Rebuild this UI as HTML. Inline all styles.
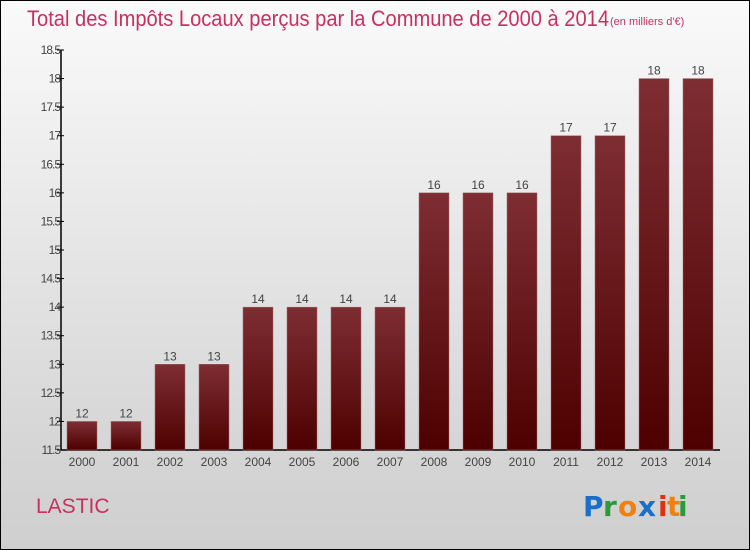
<!DOCTYPE html>
<html><head><meta charset="utf-8"><style>
html,body{margin:0;padding:0}
body{width:750px;height:550px;overflow:hidden;font-family:"Liberation Sans",sans-serif}
#wrap{position:absolute;left:0;top:0;width:748px;height:548px;border:1px solid #000;background:linear-gradient(#fafafa,#d6d6d6 80%,#cfcfcf)}
</style></head><body>
<div id="wrap">
<svg id="chart" width="750" height="550" style="position:absolute;left:-1px;top:-1px">
<defs><linearGradient id="bg" x1="0" y1="0" x2="0" y2="1"><stop offset="0" stop-color="#7e2e33"/><stop offset="1" stop-color="#4e0000"/></linearGradient></defs>
<text x="27" y="26" font-size="22" fill="#c8305f" font-family="Liberation Sans" textLength="582" lengthAdjust="spacingAndGlyphs">Total des Impôts Locaux perçus par la Commune de 2000 à 2014</text>
<text x="610" y="25" font-size="11" fill="#c8305f">(en milliers d'€)</text>
<text x="36" y="513" font-size="21" fill="#c8305f">LASTIC</text>
<g font-size="28" font-weight="bold" font-family="DejaVu Sans">
<text x="583" y="516" fill="#1a6fc8">P</text><text x="603" y="516" fill="#2a9a3a">r</text><text x="618" y="516" fill="#f08010">o</text><text x="638" y="516" fill="#1a6fc8">x</text><text x="658" y="516" fill="#e03010">i</text><text x="667" y="516" fill="#f08010">t</text><text x="678" y="516" fill="#2a9a3a">i</text>
</g>
<g id="axes"></g><g id="bars"></g>
</svg></div>
<script>
const categories=["2000","2001","2002","2003","2004","2005","2006","2007","2008","2009","2010","2011","2012","2013","2014"];
const values=[12,12,13,13,14,14,14,14,16,16,16,17,17,18,18];
const yTicks=[11.5,12,12.5,13,13.5,14,14.5,15,15.5,16,16.5,17,17.5,18,18.5];
const yMin=11.5,yMax=18.5,plotTop=50,plotBottom=450,axisX=61;
const y=v=>plotBottom-(v-yMin)/(yMax-yMin)*(plotBottom-plotTop);
const x=i=>82+i*44;
const NS="http://www.w3.org/2000/svg";
function mk(t,a,p){const e=document.createElementNS(NS,t);for(const k in a)e.setAttribute(k,a[k]);p.appendChild(e);return e;}
const ax=document.getElementById('axes'),bg=document.getElementById('bars');
let l=mk('line',{x1:axisX,y1:plotTop,x2:axisX,y2:plotBottom,stroke:'#000','stroke-width':1.5},ax);


l=mk('line',{x1:axisX,y1:plotBottom,x2:720,y2:plotBottom,stroke:'#000','stroke-width':1.5},ax);


yTicks.forEach(t=>{
 mk('line',{x1:axisX-4,y1:y(t),x2:axisX+3,y2:y(t),stroke:'#000'},ax);
 const tx=mk('text',{x:axisX-1,y:y(t)+4,'font-size':12,fill:'#444','text-anchor':'end','letter-spacing':'-1'},ax);
 tx.textContent=String(t);
 
 
});
categories.forEach((c,i)=>{
 const r=mk('rect',{x:x(i)-15,y:y(values[i]),width:30,height:plotBottom-y(values[i]),fill:'url(#bg)',stroke:'#9a6a6a','stroke-width':0.5},bg);
 
 
 const v=mk('text',{x:x(i),y:y(values[i])-4,'font-size':12,fill:'#444','text-anchor':'middle'},bg);
 v.textContent=values[i];
 
 
 const cl=mk('text',{x:x(i),y:466,'font-size':12,fill:'#444','text-anchor':'middle'},bg);
 cl.textContent=c;
 
 
});
</script>
</body></html>
